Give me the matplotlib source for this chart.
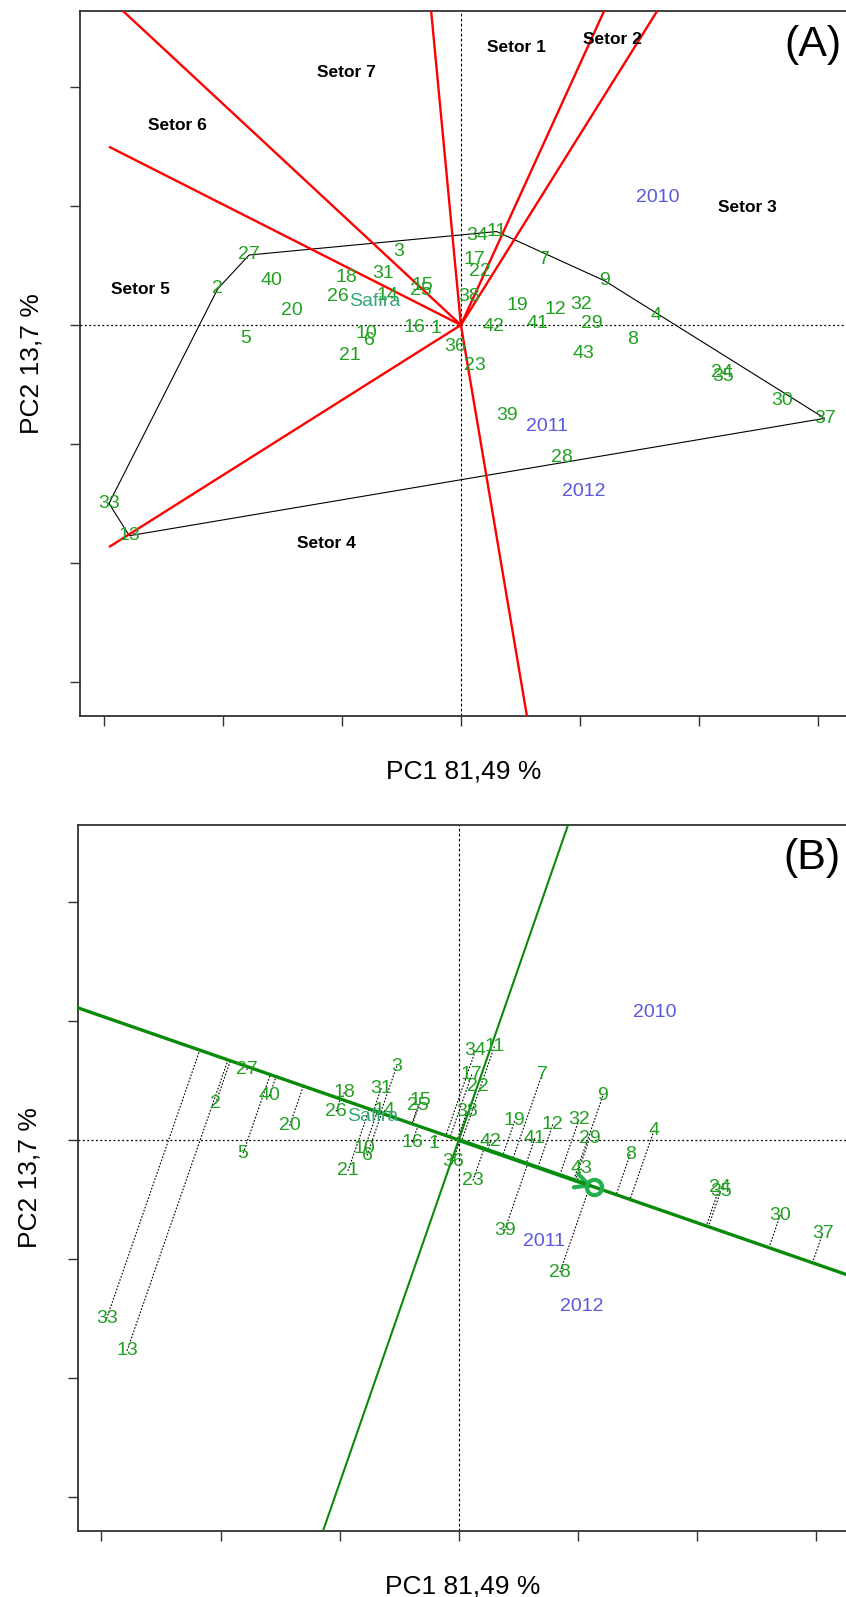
import numpy as np
import matplotlib.pyplot as plt

plt.rcParams['font.family'] = ['Liberation Sans', 'DejaVu Sans']

# genotype scores on PC1 / PC2
gen_labels = ["1", "2", "3", "4", "5", "6", "7", "8", "9", "10", "11", "12", "13", "14", "15",
              "16", "17", "18", "19", "20", "21", "22", "23", "24", "25", "26", "27", "28", "29",
              "30", "31", "32", "33", "34", "35", "36", "37", "38", "39", "40", "41", "42", "43",
              "Safira"]
gen_pc1 = [-0.21, -2.042, -0.52, 1.64, -1.81, -0.77, 0.70, 1.44, 1.21, -0.79, 0.30, 0.79, -2.785,
           -0.62, -0.32, -0.39, 0.11, -0.96, 0.47, -1.42, -0.93, 0.16, 0.12, 2.19, -0.34, -1.03,
           -1.779, 0.85, 1.10, 2.70, -0.65, 1.01, -2.956, 0.14, 2.20, -0.05, 3.056, 0.07, 0.385,
           -1.59, 0.64, 0.27, 1.03, -0.72]
gen_pc2 = [-0.03, 0.305, 0.62, 0.08, -0.11, -0.13, 0.55, -0.12, 0.37, -0.07, 0.785, 0.13, -1.77,
           0.25, 0.33, -0.02, 0.55, 0.40, 0.16, 0.12, -0.26, 0.45, -0.34, -0.40, 0.29, 0.24,
           0.588, -1.11, 0.015, -0.63, 0.435, 0.17, -1.499, 0.75, -0.43, -0.18, -0.784, 0.24,
           -0.76, 0.37, 0.015, -0.01, -0.24, 0.20]

# environment (year) scores
env_labels = ["2010", "2011", "2012"]
env_pc1 = [1.65, 0.72, 1.03]
env_pc2 = [1.07, -0.85, -1.40]

# sector names and where they are written
sector_labels = ["Setor 1", "Setor 2", "Setor 3", "Setor 4", "Setor 5", "Setor 6", "Setor 7"]
sector_x = [0.467, 1.273, 2.406, -1.128, -2.692, -2.384, -0.96]
sector_y = [2.334, 2.395, 0.989, -1.835, 0.294, 1.672, 2.12]

xlab = "PC1 81,49 %"
ylab = "PC2 13,7 %"

G = np.column_stack([gen_pc1, gen_pc2])
E = np.column_stack([env_pc1, env_pc2])

GEN_COL = "#22a022"
SAF_COL = "#35a878"
ENV_COL = "#5858e0"
W, H = 846, 1597

fig = plt.figure(figsize=(W / 100, H / 100), dpi=100)


def make_axes(left, top, bottom, x0, y0, unit):
    # box given in pixels, origin of the scores in pixels
    xl = ((left - x0) / unit, (W + 1 - x0) / unit)
    yl = ((y0 - bottom) / unit, (y0 - top) / unit)
    ax = fig.add_axes([left / W, 1 - bottom / H, (W + 1 - left) / W, (bottom - top) / H])
    ax.set_xlim(*xl)
    ax.set_ylim(*yl)
    ax.spines['right'].set_visible(False)
    for s in ['left', 'top', 'bottom']:
        ax.spines[s].set_linewidth(1.3)
        ax.spines[s].set_color("#333333")
    ax.set_xticks(np.arange(-3, 4))
    ax.set_yticks(np.arange(-3, 3))
    ax.tick_params(length=7.5, width=1.0, color="#333333", labelbottom=False, labelleft=False)
    ax.axhline(0, color="black", lw=0.9, ls=(0, (1.5, 2)), zorder=1)
    ax.axvline(0, color="black", lw=0.8, ls=(0, (2.5, 2)), zorder=1)
    ax.set_xlabel(xlab, fontsize=19, labelpad=24)
    ax.set_ylabel(ylab, fontsize=19, labelpad=19)
    return ax


def draw_labels(ax):
    for lab, (x, y) in zip(gen_labels, G):
        col = SAF_COL if lab == "Safira" else GEN_COL
        ax.text(x, y, lab, color=col, fontsize=14, ha='center', va='center', zorder=5)
    for lab, (x, y) in zip(env_labels, E):
        ax.text(x, y, lab, color=ENV_COL, fontsize=14, ha='center', va='center', zorder=5)


def convex_hull(P):
    idx = sorted(range(len(P)), key=lambda i: (P[i][0], P[i][1]))

    def cross(o, a, b):
        return (P[a][0] - P[o][0]) * (P[b][1] - P[o][1]) - (P[a][1] - P[o][1]) * (P[b][0] - P[o][0])

    lower, upper = [], []
    for i in idx:
        while len(lower) >= 2 and cross(lower[-2], lower[-1], i) <= 0:
            lower.pop()
        lower.append(i)
    for i in reversed(idx):
        while len(upper) >= 2 and cross(upper[-2], upper[-1], i) <= 0:
            upper.pop()
        upper.append(i)
    return lower[:-1] + upper[:-1]


# ---------------- (A) which-won-where ----------------
axA = make_axes(80, 10.7, 715.7, 460.9, 325, 119.05)

hull = convex_hull(G)
hp = G[hull + [hull[0]]]
axA.plot(hp[:, 0], hp[:, 1], color="black", lw=0.8, zorder=3)

xmin, xmax = G[:, 0].min(), G[:, 0].max()
for k in range(len(hull)):
    p, q = G[hull[k]], G[hull[(k + 1) % len(hull)]]
    d = q - p
    t = -np.dot(p, d) / np.dot(d, d)
    foot = p + t * d
    s = (xmin if foot[0] < 0 else xmax) / foot[0]
    axA.plot([0, foot[0] * s], [0, foot[1] * s], color="red", lw=1.7, zorder=4,
             solid_capstyle='butt')

for lab, x, y in zip(sector_labels, sector_x, sector_y):
    axA.text(x, y, lab, fontsize=12.5, fontweight='bold', ha='center', va='center', zorder=6)

axA.text(2.955, 2.35, "(A)", fontsize=31, ha='center', va='center')
draw_labels(axA)

# ---------------- (B) mean vs stability ----------------
axB = make_axes(78.3, 825, 1530.7, 458.7, 1140, 119.1)

m = E.mean(axis=0)
u = m / np.linalg.norm(m)
for g in G:
    f = np.dot(g, u) * u
    axB.plot([g[0], f[0]], [g[1], f[1]], color="black", lw=0.8, ls=(0, (1.5, 1.5)), zorder=2)

axB.axline((0, 0), (m[0], m[1]), color="#0a8a0a", lw=2.4, zorder=4)
axB.axline((0, 0), (-m[1], m[0]), color="#0a8a0a", lw=1.5, zorder=4)
axB.annotate("", xy=(m[0], m[1]), xytext=(0, 0),
             arrowprops=dict(arrowstyle="->,head_length=1.0,head_width=0.5", color="#22b04b",
                             lw=3.0, shrinkA=0, shrinkB=0), zorder=3)
axB.plot(m[0], m[1], marker='o', ms=11, mfc='none', mec="#22b04b", mew=3.0, zorder=5)

axB.text(2.965, 2.37, "(B)", fontsize=31, ha='center', va='center')
draw_labels(axB)

fig.savefig("out.png", dpi=100)
